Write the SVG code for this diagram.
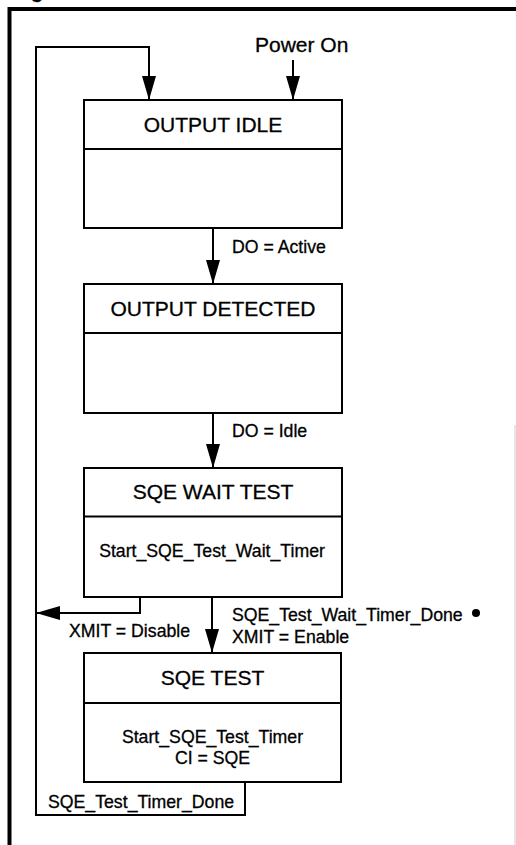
<svg xmlns="http://www.w3.org/2000/svg" width="516" height="845" viewBox="0 0 516 845">
  <style>
    .box { fill: #fff; stroke: #000; stroke-width: 2; }
    .div { stroke: #000; stroke-width: 2; }
    text { font-family: "Liberation Sans", Arial, sans-serif; fill: #000; stroke: #000; stroke-width: 0.3; }
    .title { font-size: 21px; text-anchor: middle; }
    .act { font-size: 17.7px; text-anchor: middle; }
    .lbl { font-size: 17.7px; }
    .big { font-size: 21px; }
    .conn { fill: none; stroke: #000; stroke-width: 2; }
  </style>
  <defs>
    <marker id="ah" markerUnits="userSpaceOnUse" markerWidth="24" markerHeight="14" refX="24" refY="7" orient="auto">
      <path d="M0,0 L24,7 L0,14 Z" fill="#000"/>
    </marker>
  </defs>
  <rect width="516" height="845" fill="#fff"/>
  <text x="31" y="-2" style="font-size:20px;font-weight:bold">g</text>
  <path d="M516 9 H9.5 V845" fill="none" stroke="#000" stroke-width="4"/>
  <line x1="515" y1="425" x2="515" y2="845" stroke="#ccc" stroke-width="1"/>

  <g id="connectors">
    <path class="conn" d="M245 782 V815 H36 V47 H149 V100" marker-end="url(#ah)"/>
    <path class="conn" d="M293 60 V100" marker-end="url(#ah)"/>
    <path class="conn" d="M213 228 V284" marker-end="url(#ah)"/>
    <path class="conn" d="M213 413 V468" marker-end="url(#ah)"/>
    <path class="conn" d="M212 597 V653" marker-end="url(#ah)"/>
    <path class="conn" d="M140 597 V613 H36" marker-end="url(#ah)"/>
    <text class="big" x="255" y="52">Power On</text>
    <text class="lbl" x="232" y="252.5">DO = Active</text>
    <text class="lbl" x="232" y="437">DO = Idle</text>
    <text class="lbl" x="232" y="621">SQE_Test_Wait_Timer_Done</text>
    <circle cx="476" cy="613" r="4" fill="#000"/>
    <text class="lbl" x="232" y="642.5">XMIT = Enable</text>
    <text class="lbl" x="69" y="637">XMIT = Disable</text>
    <text class="lbl" x="48" y="808">SQE_Test_Timer_Done</text>
  </g>

  <g id="output-idle">
    <rect class="box" x="84" y="100" width="258" height="128"/>
    <line class="div" x1="84" y1="149" x2="342" y2="149"/>
    <text class="title" x="213" y="131.5">OUTPUT IDLE</text>
  </g>

  <g id="output-detected">
    <rect class="box" x="84" y="284" width="258" height="129"/>
    <line class="div" x1="84" y1="333" x2="342" y2="333"/>
    <text class="title" x="213" y="316">OUTPUT DETECTED</text>
  </g>

  <g id="sqe-wait-test">
    <rect class="box" x="84" y="468" width="258" height="129"/>
    <line class="div" x1="84" y1="516.5" x2="342" y2="516.5"/>
    <text class="title" x="213" y="499">SQE WAIT TEST</text>
    <text class="act" x="212" y="557">Start_SQE_Test_Wait_Timer</text>
  </g>

  <g id="sqe-test">
    <rect class="box" x="84" y="653" width="257" height="129"/>
    <line class="div" x1="84" y1="703" x2="341" y2="703"/>
    <text class="title" x="212.5" y="685">SQE TEST</text>
    <text class="act" x="212.5" y="743">Start_SQE_Test_Timer</text>
    <text class="act" x="212.5" y="764">CI = SQE</text>
  </g>
</svg>
